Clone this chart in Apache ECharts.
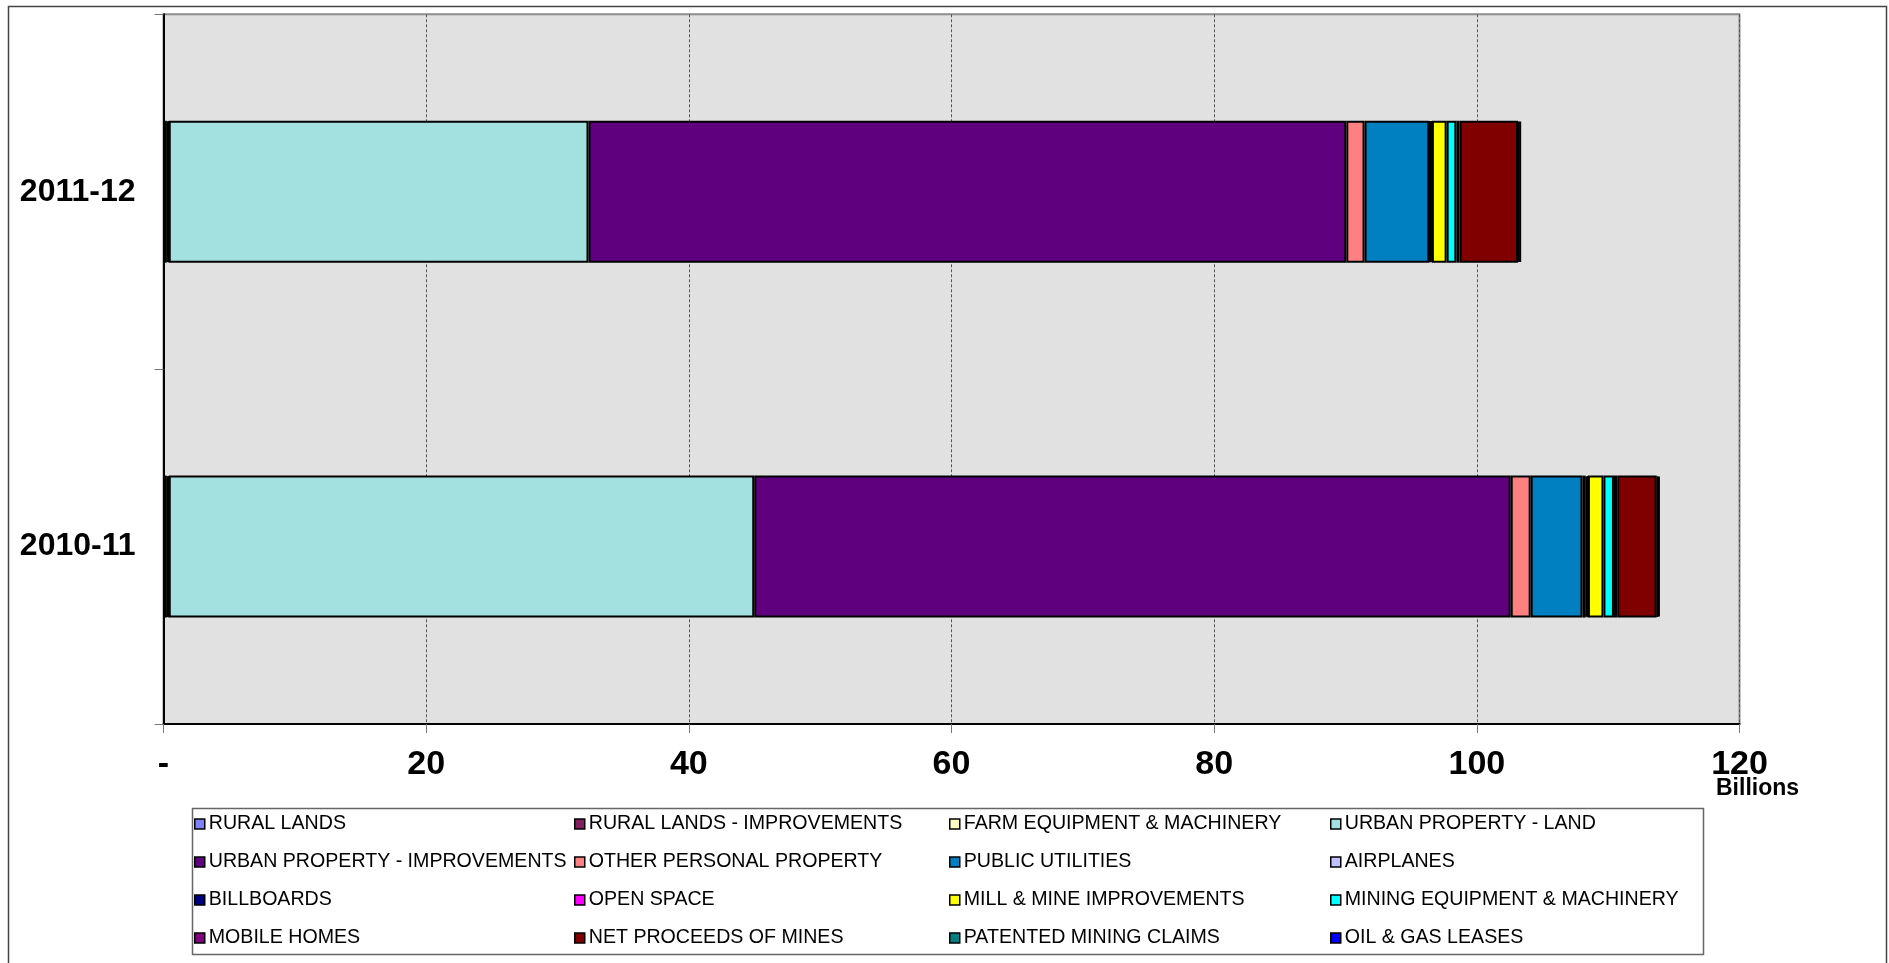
<!DOCTYPE html>
<html>
<head>
<meta charset="utf-8">
<script src="https://cdn.jsdelivr.net/npm/echarts@6/dist/echarts.min.js"></script>
<style>
html,body{margin:0;padding:0;background:#fff;}
#chart{width:1889px;height:963px;}
</style>
</head>
<body>
<div id="chart"></div>
<script>
// ---- Data (billions) ----
const categories = ['2010-11', '2011-12'];
const xTickLabels = ['-', '20', '40', '60', '80', '100', '120'];
const seriesNames = [
  'RURAL LANDS', 'RURAL LANDS - IMPROVEMENTS', 'FARM EQUIPMENT & MACHINERY', 'URBAN PROPERTY - LAND',
  'URBAN PROPERTY - IMPROVEMENTS', 'OTHER PERSONAL PROPERTY', 'PUBLIC UTILITIES', 'AIRPLANES',
  'BILLBOARDS', 'OPEN SPACE', 'MILL & MINE IMPROVEMENTS', 'MINING EQUIPMENT & MACHINERY',
  'MOBILE HOMES', 'NET PROCEEDS OF MINES', 'PATENTED MINING CLAIMS', 'OIL & GAS LEASES'
];
const ruralLands = [0.25, 0.25];
const ruralImprovements = [0.10, 0.10];
const farmEquipment = [0.05, 0.05];
const urbanLand = [44.58, 31.96];
const urbanImprovements = [57.60, 57.70];
const otherPersonal = [1.52, 1.39];
const publicUtilities = [3.94, 4.93];
const airplanes = [0.25, 0.05];
const billboards = [0.12, 0.10];
const openSpace = [0.05, 0.05];
const millMine = [1.18, 1.12];
const miningEquipment = [0.80, 0.74];
const mobileHomes = [0.25, 0.25];
const netProceeds = [3.00, 4.45];
const patentedClaims = [0.10, 0.10];
const oilGas = [0.15, 0.12];

const seriesValues = [ruralLands, ruralImprovements, farmEquipment, urbanLand, urbanImprovements,
  otherPersonal, publicUtilities, airplanes, billboards, openSpace, millMine, miningEquipment,
  mobileHomes, netProceeds, patentedClaims, oilGas];
const seriesColors = ['#8080FF', '#802060', '#FFFFC0', '#A3E0E0', '#5F007F', '#FF8080', '#0080C0',
  '#C0C0FF', '#000080', '#FF00FF', '#FFFF00', '#00FFFF', '#800080', '#800000', '#008080', '#0000FF'];

const FONT = '"Liberation Sans", Arial, sans-serif';

const chart = echarts.init(document.getElementById('chart'), null, {renderer: 'canvas'});

const series = seriesNames.map((name, i) => ({
  name: name,
  type: 'bar',
  stack: 'total',
  barWidth: '40%',
  data: seriesValues[i],
  itemStyle: {color: seriesColors[i], borderColor: '#000', borderWidth: 2},
  emphasis: {disabled: true}
}));

// four legend columns (rows of the reference legend read across)
const legendCols = [0, 1, 2, 3].map(c => [0, 1, 2, 3].map(r => seriesNames[r * 4 + c]));
const legendLefts = [194, 574, 949, 1330];
const legends = legendCols.map((names, c) => ({
  data: names,
  orient: 'vertical',
  left: legendLefts[c],
  top: 814,
  itemWidth: 10,
  itemHeight: 10,
  itemGap: 18,
  icon: 'rect',
  selectedMode: false,
  padding: 0,
  itemStyle: {borderColor: '#000', borderWidth: 1.5},
  textStyle: {fontFamily: FONT, fontSize: 19.6, color: '#000', lineHeight: 20, padding: [0, 0, 0, -1]}
}));

const option = {
  animation: false,
  backgroundColor: '#fff',
  grid: {
    left: 163.5, right: 149.5, top: 14.3, bottom: 239,
    show: true, backgroundColor: '#E1E1E1', borderColor: '#8C8C8C', borderWidth: 2
  },
  xAxis: {
    type: 'value',
    min: 0, max: 120, interval: 20,
    axisLine: {show: true, onZero: false, lineStyle: {color: '#000', width: 2}},
    axisTick: {show: true, length: 9, lineStyle: {color: '#777', width: 1}},
    splitLine: {show: true, lineStyle: {color: '#555', width: 1, type: [3, 2]}},
    axisLabel: {
      margin: 24,
      fontFamily: FONT, fontSize: 34, fontWeight: 'bold', color: '#000',
      formatter: (v) => xTickLabels[Math.round(v / 20)]
    }
  },
  yAxis: {
    type: 'category',
    data: categories,
    axisLine: {show: true, lineStyle: {color: '#000', width: 2}},
    axisTick: {show: true, length: 9, lineStyle: {color: '#777', width: 1}},
    splitLine: {show: false},
    axisLabel: {margin: 28, fontFamily: FONT, fontSize: 32, fontWeight: 'bold', color: '#000'}
  },
  legend: legends,
  graphic: [
    {type: 'rect', left: 6, top: 4, shape: {width: 1878, height: 975},
      style: {fill: 'none', stroke: '#444', lineWidth: 1.5}, silent: true, z: 100},
    {type: 'rect', left: 190, top: 806, shape: {width: 1511, height: 146},
      style: {fill: 'none', stroke: '#666', lineWidth: 1.5}, silent: true},
    {type: 'text', left: 1716, top: 777,
      style: {text: 'Billions', font: 'bold 23px ' + FONT, fill: '#000'}}
  ],
  series: series
};
chart.setOption(option);
</script>
</body>
</html>
